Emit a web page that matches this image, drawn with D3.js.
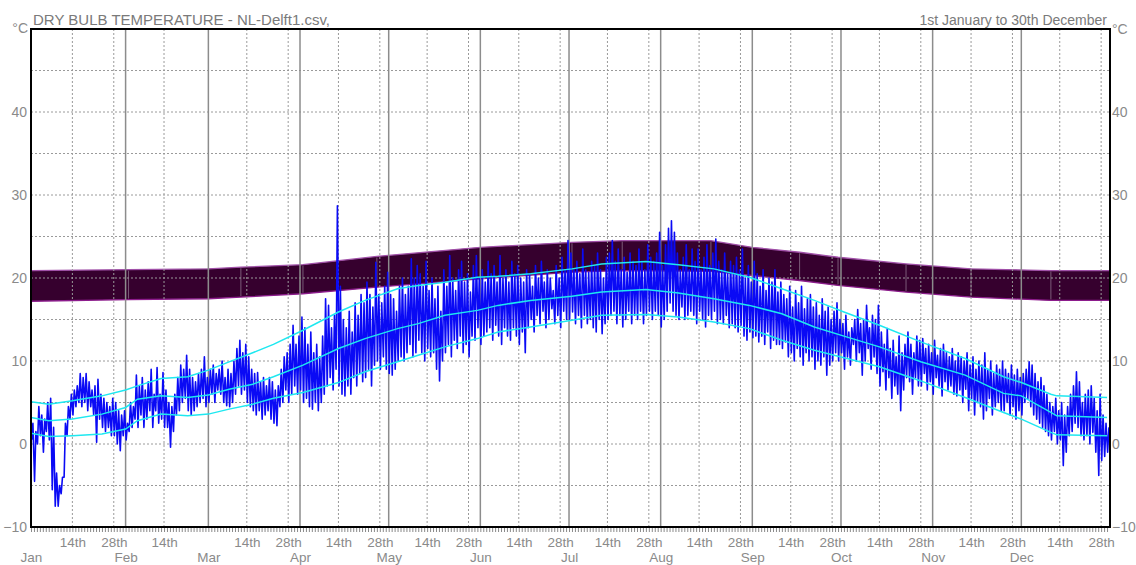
<!DOCTYPE html>
<html>
<head>
<meta charset="utf-8">
<script src="https://cdn.jsdelivr.net/npm/d3@7"></script>
<style>
  body { margin: 0; background: #fff; }
  text { font-family: "Liberation Sans", Arial, sans-serif; }
</style>
</head>
<body>
<svg id="chart" width="1136" height="565"></svg>
<script>
// Daily maximum / minimum dry bulb temperature (°C), day 0 = 1st January
const dailyHigh = [
  2.5, 1.5, 4.5, 3.5, 3, 5, 5.5, 2, -3.5, -5, -4, 2.5, 4.5, 6,
  6.5, 7, 8.5, 8, 8.5, 7.5, 6.5, 7, 7.8, 6, 5.5, 5, 4.5, 5.5,
  5, 4, 3.5, 4, 2.5, 5, 4.5, 8.3, 7, 8, 6.5, 7.5, 9, 6,
  9.2, 6, 8.6, 6.5, 5, 4.5, 6, 8, 9.5, 9, 10.7, 9, 8, 7.5,
  8.5, 9, 10.5, 8, 9, 9.5, 8.5, 9, 10, 8, 9, 8.5, 10, 11.5,
  12.5, 11, 12, 10.5, 9, 8.5, 8.6, 7.5, 8, 7, 8, 7.5, 6.5, 7,
  9, 10.5, 11, 12, 14.3, 12, 13, 15.3, 14, 12, 13.5, 11, 12, 10.5,
  13, 17.5, 16.7, 14, 15.5, 28.7, 19, 15, 14, 16, 13.5, 17, 15.5, 18,
  17, 19.5, 18, 16.5, 21.9, 18, 17, 19, 20.7, 18, 17.5, 16, 19, 20,
  18, 19, 22.3, 20, 21.5, 20.5, 19, 22, 18.5, 20, 17.5, 19, 16, 21,
  19, 22.7, 20, 18.5, 21, 22, 19.5, 20.5, 18.3, 21.5, 22.7, 20, 21, 19.5,
  22, 20.5, 21.5, 19.5, 22.7, 20, 21, 19.5, 22, 20.5, 21.5, 20, 19.5, 21,
  20.5, 19, 21.5, 20, 22, 19.5, 21, 20, 18.5, 21.5, 20, 22.5, 21, 24.5,
  23, 21, 22, 20.5, 23.5, 21, 20.7, 22, 21.5, 23, 21, 20, 22.5, 23,
  24.5, 22, 23.5, 21, 22.5, 20.7, 23, 22, 21.5, 23.5, 22, 21, 24, 22.5,
  22, 23, 25.5, 21.5, 24, 26, 26.9, 25.5, 23, 21, 22.5, 24, 21, 23.5,
  22, 23.5, 21, 22.5, 24, 21.5, 23, 24.7, 22, 21, 23, 20.5, 22, 21.5,
  22.5, 21, 23.5, 20, 21.5, 19.5, 22, 20.5, 19, 21, 18.5, 20, 19.5, 21, 18.3,
  19.5, 18, 17.5, 19, 16.5, 18.5, 17, 19, 16.3, 17.5, 18, 16.5, 17, 15.5, 17.5, 16, 16.5, 15, 16, 17,
  15, 14.5, 15.5, 13.5, 14, 15, 16.2, 14.5, 15, 16.7, 14, 15.5, 15, 16.7,
  13.5, 12, 13.9, 11.5, 12.5, 10.5, 13, 11, 12, 13.5, 12, 11, 13, 12.5,
  12.7, 11.5, 12, 11, 12.5, 10.7, 11.5, 12, 11, 10.5, 11.5, 10, 11, 10.5,
  10, 11, 9.5, 10.5, 9, 10, 9.5, 11, 9, 10, 8.5, 9.5, 9, 10,
  9, 8.5, 9.5, 8.3, 9, 8, 8.5, 9, 9.9, 9.5, 8.5, 7.5, 8, 7,
  6, 5, 4.5, 5.5, 4, 5, 3.5, 4.5, 6, 7, 8.7, 7.5, 5, 6,
  6.5, 7, 5.5, 4, 6, 3.5, 2.5, 2
];
const dailyLow = [
  0.5, -4.5, 0, 1, -1, 1.5, 0.5, -5.5, -7.5, -7.5, -6, -4, 1, 3,
  3.5, 4.5, 5, 4.5, 5, 4, 4.5, 3.5, 0.2, 3, 2, 1.5, 2, 1,
  1, 0, -0.8, 1, 0.5, 1.5, 2, 3, 2, 3.5, 2, 3, 4, 2,
  4, 2.5, 3, 2, 2, -0.4, 1.5, 3.5, 4, 5, 5.5, 4, 3.5, 4,
  4.5, 5, 5.5, 4.5, 5, 6, 5, 6.5, 6, 5, 4.6, 4.5, 5, 6,
  7, 6, 6.5, 5, 4.5, 4, 3.5, 4, 3, 3.5, 4, 3, 2.5, 2.2,
  4.5, 5, 6.5, 5, 6, 7, 6, 6.5, 5, 5.5, 4.5, 4.2, 5, 4,
  5, 6, 7, 8, 6.5, 9, 7, 6, 5.8, 7, 6, 8, 7, 8.5,
  7.5, 8, 9, 7, 9.5, 10, 9, 10.5, 9, 8.5, 8.3, 9, 10, 10.5,
  10, 11, 12, 10.5, 11, 12.5, 11, 10, 11.5, 10.5, 11, 9, 7.6, 10,
  11, 12, 10.5, 12.5, 11.5, 13, 11, 12, 10.5, 13, 12.5, 14, 12, 13,
  13.5, 14, 12.5, 14.3, 13, 12, 14, 13, 12.5, 14, 13, 12, 13.5, 11,
  14, 15, 13.5, 15.5, 14.5, 16, 14, 15, 16.3, 14.5, 15.5, 14, 16, 15,
  15, 15.9, 14.5, 15.5, 14, 15.5, 14.5, 15, 14, 13.5, 15, 13.3, 14.5, 15,
  15.5, 16, 14.5, 15.5, 14.1, 15, 16, 14.5, 15.5, 15, 16, 14.5, 15.5, 16,
  15, 16, 15.5, 14.1, 15, 16, 17, 16, 15.5, 15, 16.5, 15, 15.5, 16,
  15.5, 14.5, 16, 15, 14.1, 15.5, 15, 16, 14.5, 15, 14.5, 15.5, 14, 14.5,
  14, 13.5, 14.3, 13, 12.5, 13.5, 12.8, 13, 12.3, 13, 12, 13.5, 11.5, 12.5, 12,
  12, 11.5, 12.3, 10.5, 11, 10, 11.5, 10.5, 9.5, 11, 10, 10.5, 9, 10, 9.5, 10.5, 8.3, 9.5, 10, 11,
  10, 11, 9, 10.5, 9.5, 12, 10, 11, 8.3, 10, 11.5, 9, 10.5, 8.5,
  7, 8.7, 6.5, 8, 5.5, 7, 6, 4, 6.5, 8, 7.5, 6, 8, 7,
  7, 8.5, 6.5, 7.5, 6, 8, 7, 5.8, 7.5, 6.5, 7, 6, 5.8, 6.5,
  5, 6.6, 4, 5.5, 3.5, 5, 4.5, 3, 4, 5.5, 3.5, 4.5, 5, 4,
  4, 5, 3.5, 4.5, 3, 4, 3.5, 5, 5.4, 4.5, 3.5, 3, 2.5, 2,
  1.5, 1, 0.5, 1.5, 0, 0.5, -2.6, -1, 1, 1.5, 2.5, 2, 1, 0.5,
  1, 0, 1.4, -1, -3.8, -2, -1.5, -1
];

// Running averages of daily maximum, mean and minimum (°C)
const avgDays = [0, 6, 14, 24, 32, 36, 44, 53, 60, 67, 75, 82, 92, 104, 113, 124, 131, 140, 151, 158, 169, 183, 193, 208, 219, 231, 243, 254, 265, 275, 287, 301, 316, 329, 335, 345, 347, 364];
const avgHigh = [5.1, 4.8, 5.2, 5.8, 6.5, 7.0, 7.9, 8.1, 8.9, 9.9, 11.0, 12.0, 13.7, 15.9, 17.3, 18.7, 19.1, 19.5, 20.1, 20.2, 20.5, 21.1, 21.7, 22.0, 21.6, 21.1, 20.1, 18.7, 17.3, 15.9, 14.3, 12.3, 10.3, 8.1, 7.4, 6.0, 5.8, 5.6];
const avgMean = [3.2, 2.8, 3.0, 3.6, 4.4, 5.4, 5.8, 5.6, 5.9, 6.6, 7.2, 8.1, 9.5, 11.5, 12.7, 13.9, 14.5, 15.5, 16.1, 16.7, 17.3, 17.8, 18.3, 18.6, 18.2, 17.5, 16.7, 15.7, 14.1, 13.0, 11.7, 9.9, 8.3, 6.1, 5.8, 3.8, 3.4, 3.2];
const avgLow = [1.3, 0.9, 1.0, 1.2, 1.8, 2.8, 3.6, 3.4, 3.6, 4.2, 4.8, 5.5, 6.2, 7.4, 8.7, 9.9, 10.7, 11.7, 12.7, 13.5, 14.1, 14.9, 15.5, 15.6, 15.3, 14.7, 13.9, 12.5, 11.3, 10.4, 9.3, 7.6, 5.6, 3.8, 3.0, 1.4, 1.1, 1.0];

// Adaptive comfort band limits (°C)
const comfortDays = [0, 33, 60, 71, 92, 117, 152, 183, 200, 230, 244, 260, 273, 296, 318, 345, 365];
const comfortUpper = [20.9, 21.0, 21.1, 21.3, 21.6, 22.6, 23.7, 24.3, 24.5, 24.5, 23.7, 23.1, 22.5, 21.7, 21.1, 20.9, 20.9];
const comfortLower = [17.2, 17.4, 17.5, 17.7, 18.1, 18.9, 19.9, 20.7, 20.9, 20.8, 20.3, 19.7, 19.1, 18.3, 17.7, 17.3, 17.3];

const tempTicks = [-10, 0, 10, 20, 30, 40];
const monthNames = ["Jan", "Feb", "Mar", "Apr", "May", "Jun", "Jul", "Aug", "Sep", "Oct", "Nov", "Dec"];
const monthStarts = [0, 31, 59, 90, 120, 151, 181, 212, 243, 273, 304, 334];
const dayMarks = [14, 28];

const svg = d3.select("#chart");
const plotLeft = 31, plotRight = 1110, plotTop = 29, plotBottom = 527;

const x = d3.scaleLinear().domain([0, 365]).range([plotLeft, plotRight]);
const y = d3.scaleLinear().domain([-10, 50]).range([plotBottom, plotTop]);

const labelColor = "#8a8a8a";
const fontFamily = "\"Liberation Sans\", Arial, sans-serif";

// Comfort band
const bandData = comfortDays.map((d, i) => ({ d, lo: comfortLower[i], hi: comfortUpper[i] }));
svg.append("path")
  .datum(bandData)
  .attr("d", d3.area().x(p => x(p.d)).y0(p => y(p.lo)).y1(p => y(p.hi)))
  .attr("fill", "#36002e");
svg.append("g").selectAll("line")
  .data(bandData.slice(1, -1))
  .join("line")
  .attr("x1", p => x(p.d)).attr("x2", p => x(p.d))
  .attr("y1", p => y(p.hi) + 1).attr("y2", p => y(p.lo) - 1)
  .attr("stroke", "#7a5a78").attr("stroke-width", 1);
["hi", "lo"].forEach(k => {
  svg.append("path")
    .datum(bandData)
    .attr("d", d3.line().x(p => x(p.d)).y(p => y(p[k])))
    .attr("fill", "none")
    .attr("stroke", k === "hi" ? "#a050a8" : "#8c1c8c")
    .attr("stroke-width", 1.3);
});

// Horizontal grid every 5 °C
const grid = svg.append("g");
grid.selectAll("line.h")
  .data(d3.range(-5, 50, 5))
  .join("line")
  .attr("x1", plotLeft).attr("x2", plotRight)
  .attr("y1", v => y(v)).attr("y2", v => y(v))
  .attr("stroke", "#9a9a9a").attr("stroke-width", 1)
  .attr("stroke-dasharray", "2,2");

// Vertical grid: solid at months, dotted at 14th and 28th
const minorDays = [];
monthStarts.forEach((m, i) => {
  dayMarks.forEach(k => {
    const d = m + k;
    const next = i < 11 ? monthStarts[i + 1] : 365;
    if (d + 1 < next) minorDays.push(d);
  });
});
grid.selectAll("line.vd")
  .data(minorDays)
  .join("line")
  .attr("x1", d => x(d)).attr("x2", d => x(d))
  .attr("y1", plotTop).attr("y2", plotBottom)
  .attr("stroke", "#9a9a9a").attr("stroke-width", 1)
  .attr("stroke-dasharray", "2,2");
grid.selectAll("line.vm")
  .data(monthStarts.slice(1))
  .join("line")
  .attr("x1", d => x(d + 1)).attr("x2", d => x(d + 1))
  .attr("y1", plotTop).attr("y2", plotBottom)
  .attr("stroke", "#8c8c8c").attr("stroke-width", 1.5);

// Dry bulb temperature trace (daily minimum and maximum)
const trace = [];
dailyHigh.forEach((h, d) => {
  trace.push([d + 0.2, dailyLow[d]]);
  trace.push([d + 0.65, h]);
});
svg.append("path")
  .datum(trace)
  .attr("d", d3.line().x(p => x(p[0])).y(p => y(p[1])))
  .attr("fill", "none")
  .attr("stroke", "#0a0af5")
  .attr("stroke-width", 1.6)
  .attr("stroke-linejoin", "round");

// Average lines
[avgHigh, avgMean, avgLow].forEach(series => {
  svg.append("path")
    .datum(avgDays.map((d, i) => [d, series[i]]))
    .attr("d", d3.line().x(p => x(p[0])).y(p => y(p[1])))
    .attr("fill", "none")
    .attr("stroke", "#1ee8f0")
    .attr("stroke-width", 1.5);
});

// Frame
svg.append("rect")
  .attr("x", plotLeft).attr("y", plotTop)
  .attr("width", plotRight - plotLeft).attr("height", plotBottom - plotTop)
  .attr("fill", "none").attr("stroke", "#000").attr("stroke-width", 2);

// Daily ticks below the frame
svg.append("g").selectAll("line")
  .data(d3.range(0, 365))
  .join("line")
  .attr("x1", d => x(d) + 0.5).attr("x2", d => x(d) + 0.5)
  .attr("y1", plotBottom + 1).attr("y2", plotBottom + 5)
  .attr("stroke", "#8a8a8a").attr("stroke-width", 1);

// Temperature axes, both sides
const yLeft = d3.axisLeft(y).tickValues(tempTicks).tickSize(0).tickPadding(4);
const yRight = d3.axisRight(y).tickValues(tempTicks).tickSize(0).tickPadding(2);
[svg.append("g").attr("transform", `translate(${plotLeft},0)`).call(yLeft),
 svg.append("g").attr("transform", `translate(${plotRight},0)`).call(yRight)].forEach(g => {
  g.select(".domain").remove();
  g.selectAll("text")
    .attr("fill", labelColor)
    .style("font-size", "14px")
    .style("font-family", fontFamily);
});

// Date axis labels
const xDays = d3.axisBottom(x).tickValues(minorDays)
  .tickFormat(d => (d - monthStarts[d3.bisectRight(monthStarts, d) - 1]) + "th")
  .tickSize(0).tickPadding(10);
const gDays = svg.append("g").attr("transform", `translate(0,${plotBottom})`).call(xDays);
gDays.select(".domain").remove();
gDays.selectAll("text").attr("fill", labelColor).style("font-size", "13.5px")
  .style("font-family", fontFamily);

const monthPos = monthStarts.map((m, i) => i === 0 ? m : m + 1);
const xMonths = d3.axisBottom(x).tickValues(monthPos)
  .tickFormat((d, i) => monthNames[i])
  .tickSize(0).tickPadding(25);
const gMonths = svg.append("g").attr("transform", `translate(0,${plotBottom})`).call(xMonths);
gMonths.select(".domain").remove();
gMonths.selectAll("text").attr("fill", labelColor).style("font-size", "13.5px")
  .style("font-family", fontFamily);

// Titles and units
svg.append("text").attr("x", 33).attr("y", 25)
  .attr("fill", "#7a7a7a").style("font-size", "15px")
  .text("DRY BULB TEMPERATURE - NL-Delft1.csv,");
svg.append("text").attr("x", 1107).attr("y", 25).attr("text-anchor", "end")
  .attr("fill", "#7a7a7a").style("font-size", "14px")
  .text("1st January to 30th December");
svg.append("text").attr("x", 28).attr("y", 33).attr("text-anchor", "end")
  .attr("fill", labelColor).style("font-size", "14px").text("°C");
svg.append("text").attr("x", 1112).attr("y", 34)
  .attr("fill", labelColor).style("font-size", "14px").text("°C");
</script>
</body>
</html>
